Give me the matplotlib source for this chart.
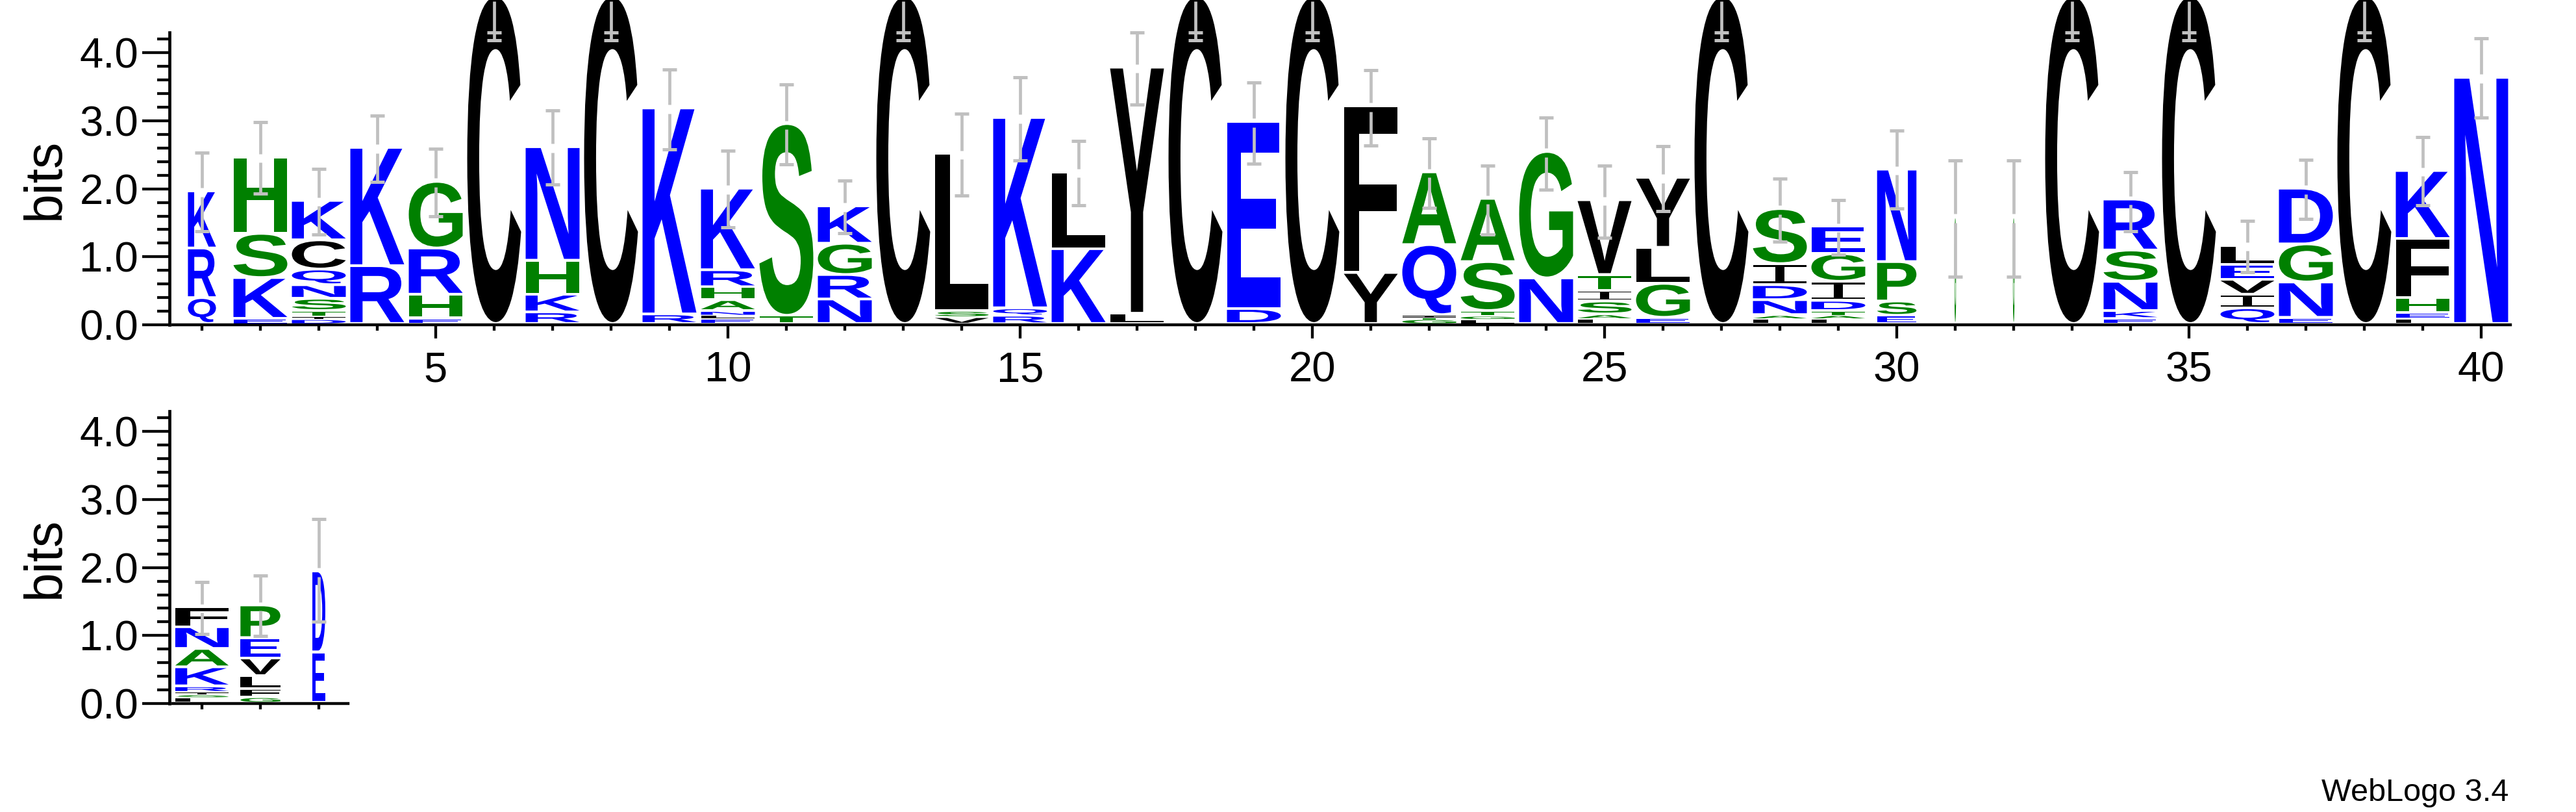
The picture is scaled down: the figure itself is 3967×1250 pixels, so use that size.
import matplotlib
matplotlib.use('Agg')
import matplotlib.pyplot as plt
from matplotlib.textpath import TextPath
from matplotlib.path import Path
from matplotlib.patches import PathPatch
from matplotlib.font_manager import FontProperties
from matplotlib.transforms import Affine2D
from matplotlib.ticker import MultipleLocator, FormatStrFormatter

plt.rcParams['font.family'] = ['Liberation Sans', 'DejaVu Sans']

# stacks, bottom -> top, heights in bits
positions = list(range(1, 44))
stack_letters = [
    "QRK", "EKSH", "DITSNQCK", "RK", "EHRG", "C", "RKHN", "C", "RK", "ELNAHRK",
    "TS", "NRGK", "C", "VSL", "RQK", "KL", "LY", "C", "DE", "C",
    "YF", "GTIQA", "LGTSA", "NG", "LASITV", "EGLY", "C", "LANDIS", "LATDIGE", "ESPN",
    "G", "G", "C", "EKNSR", "C", "QIVEL", "ENGD", "C", "LEHFK", "N",
    "LSIRKANF", "GFLVEP", "ED",
]
stack_heights = [
    [0.38, 0.73, 0.84], [0.075, 0.60, 0.65, 1.125],
    [0.07, 0.04, 0.08, 0.18, 0.20, 0.23, 0.43, 0.58], [0.85, 1.74],
    [0.08, 0.35, 0.68, 0.98], [4.82], [0.17, 0.26, 0.50, 1.67], [4.82],
    [0.14, 3.03], [0.08, 0.05, 0.06, 0.16, 0.19, 0.25, 1.20],
    [0.12, 2.82], [0.36, 0.36, 0.46, 0.55], [4.82], [0.10, 0.09, 2.31],
    [0.12, 0.11, 2.80], [1.10, 1.13], [0.15, 3.62], [4.82], [0.22, 2.75], [4.82],
    [0.75, 2.45], [0.07, 0.03, 0.03, 1.03, 1.07], [0.07, 0.05, 0.07, 0.72, 0.93],
    [0.67, 1.86], [0.08, 0.06, 0.19, 0.16, 0.23, 1.10], [0.09, 0.50, 0.53, 1.03],
    [4.82], [0.08, 0.05, 0.22, 0.22, 0.31, 0.81],
    [0.08, 0.05, 0.06, 0.15, 0.28, 0.41, 0.40], [0.12, 0.21, 0.58, 1.36],
    [1.57], [1.57], [4.82], [0.08, 0.11, 0.43, 0.46, 0.75], [4.82],
    [0.23, 0.20, 0.22, 0.22, 0.28], [0.09, 0.52, 0.56, 0.82], [4.82],
    [0.08, 0.08, 0.22, 0.87, 1.00], [3.62],
    [0.08, 0.04, 0.04, 0.08, 0.28, 0.27, 0.32, 0.29],
    [0.08, 0.12, 0.19, 0.26, 0.30, 0.48], [0.74, 1.19],
]
# relative stack width (occupancy)
stack_widths = [0.52] + [1.0] * 28 + [0.73, 0.03, 0.03] + [1.0] * 8 + [0.99, 0.74, 0.24]
err_lo = [1.38, 1.93, 1.33, 2.10, 1.60, 4.19, 2.06, 4.19, 2.58, 1.43,
          2.36, 1.35, 4.19, 1.90, 2.42, 1.76, 3.24, 4.19, 2.37, 4.19,
          2.64, 1.72, 1.33, 1.99, 1.28, 1.67, 4.19, 1.22, 1.03, 1.71,
          0.71, 0.71, 4.19, 1.38, 4.19, 0.77, 1.56, 4.19, 1.76, 3.05,
          1.02, 0.99, 1.20]
err_hi = [2.53, 2.98, 2.29, 3.08, 2.59, 4.30, 3.15, 4.30, 3.76, 2.56,
          3.54, 2.12, 4.30, 3.11, 3.64, 2.70, 4.30, 4.30, 3.56, 4.30,
          3.75, 2.74, 2.34, 3.05, 2.34, 2.63, 4.30, 2.15, 1.83, 2.86,
          2.42, 2.42, 4.30, 2.25, 4.30, 1.53, 2.43, 4.30, 2.76, 4.21,
          1.79, 1.88, 2.71]

colors = {}
for c in "RKDENQ":
    colors[c] = '#0000ff'
for c in "SGHTAP":
    colors[c] = '#008000'
for c in "YVMCLFIW":
    colors[c] = '#000000'

fp = FontProperties(family='Liberation Sans', weight='bold')

# weblogo draws I with bars top and bottom
b, s = 0.1, 0.08
I_path = Path([(0, 0), (1, 0), (1, b), (0.5 + s, b), (0.5 + s, 1 - b), (1, 1 - b),
               (1, 1), (0, 1), (0, 1 - b), (0.5 - s, 1 - b), (0.5 - s, b), (0, b), (0, 0)],
              closed=True)
glyphs = {'I': I_path}


def draw_letter(ax, ch, x, y0, w, h, color):
    if ch not in glyphs:
        glyphs[ch] = TextPath((0, 0), ch, size=1, prop=fp)
    tp = glyphs[ch]
    bb = tp.get_extents()
    tr = (Affine2D().translate(-bb.x0, -bb.y0)
          .scale(w / bb.width, h / bb.height)
          .translate(x - w / 2, y0))
    ax.add_patch(PathPatch(tr.transform_path(tp), fc=color, ec='none',
                           lw=0, transform=ax.transData, clip_on=False, zorder=2))


def draw_logo(ax, idx):
    for i in idx:
        p = positions[i]
        w = 0.922 * stack_widths[i]
        y = 0.0
        for ch, h in zip(stack_letters[i], stack_heights[i]):
            pad = min(0.04, 0.3 * h)
            draw_letter(ax, ch, p, y + pad, w, h - pad, colors[ch])
            y += h
        # error bar with a small gap at the stack top
        g = 0.065
        lo, hi = err_lo[i], err_hi[i]
        segs = [(lo, min(hi, y - g)), (max(lo, y + g), hi)]
        if y > hi:
            segs = [(lo, y - g)]
        for a, b2 in segs:
            if b2 > a:
                ax.plot([p, p], [a, b2], color='#c0c0c0', lw=3.4,
                        solid_capstyle='butt', clip_on=False, zorder=3)
        for v in (lo, hi):
            ax.plot([p - 0.117, p + 0.117], [v, v], color='#c0c0c0', lw=3.6,
                    solid_capstyle='butt', clip_on=False, zorder=3)


def style_axes(ax, x0, x1):
    ax.set_xlim(x0, x1)
    ax.set_ylim(0, 4.3)
    for sp in ('top', 'right'):
        ax.spines[sp].set_visible(False)
    ax.spines['left'].set_position(('outward', 3.6))
    ax.spines['left'].set_linewidth(3.4)
    ax.spines['bottom'].set_linewidth(3.2)
    ax.xaxis.set_major_locator(MultipleLocator(5))
    ax.xaxis.set_minor_locator(MultipleLocator(1))
    ax.yaxis.set_major_locator(MultipleLocator(1))
    ax.yaxis.set_minor_locator(MultipleLocator(0.2))
    ax.yaxis.set_major_formatter(FormatStrFormatter('%.1f'))
    ax.tick_params(axis='y', which='major', length=30, width=3.1, pad=4.5, labelsize=47)
    ax.tick_params(axis='y', which='minor', length=14, width=3.1)
    ax.tick_params(axis='x', which='major', length=15, width=3.1, pad=14, labelsize=47)
    ax.tick_params(axis='x', which='minor', length=6.5, width=3.1)


fig = plt.figure(figsize=(39.67, 12.5), dpi=100)
ax1 = fig.add_axes([266 / 3967, 0.6, 3600 / 3967, 0.36])
ax2 = fig.add_axes([266 / 3967, 167 / 1250, 270 / 3967, 0.36])
for a in (ax1, ax2):
    a.patch.set_alpha(0)

style_axes(ax1, 0.5, 40.5)
style_axes(ax2, 40.5, 43.5)
draw_logo(ax1, range(0, 40))
draw_logo(ax2, range(40, 43))

fig.text(70 / 3967, 1 - 275 / 1250, 'bits', rotation=90, ha='center', va='center', fontsize=58)
fig.text(70 / 3967, 1 - 858 / 1250, 'bits', rotation=90, ha='center', va='center', fontsize=58)
fig.text(3863 / 3967, 1 - 1233 / 1250, 'WebLogo 3.4', ha='right', va='baseline', fontsize=35)

fig.savefig('out.png', dpi=100)
